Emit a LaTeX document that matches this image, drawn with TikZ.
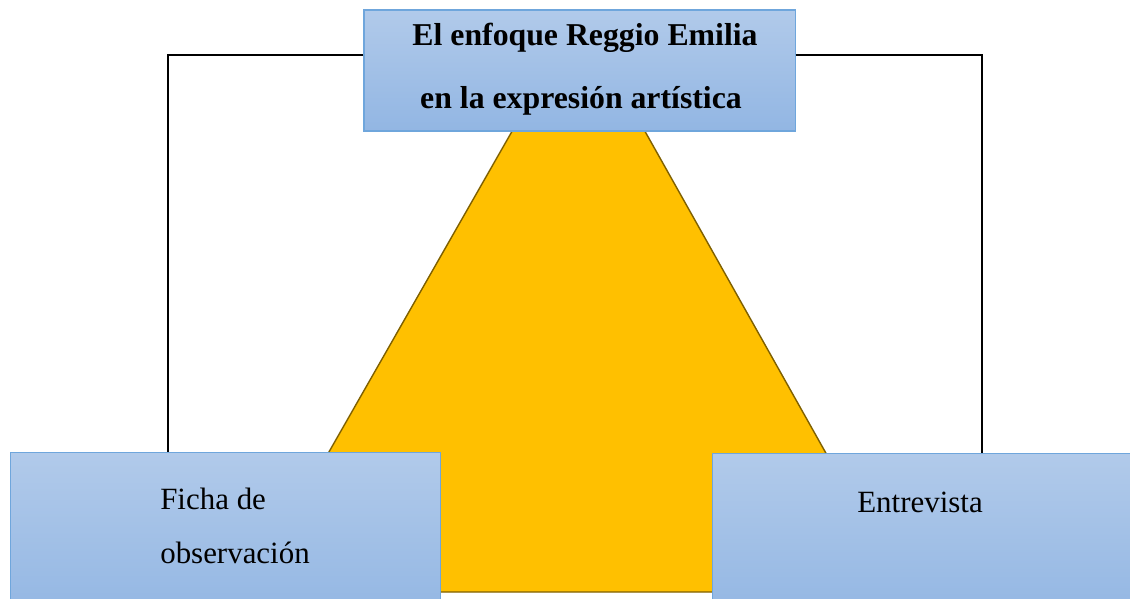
\documentclass[tikz,border=0pt]{standalone}
\usepackage{fontspec}
\setmainfont{Liberation Serif}
\definecolor{boxline}{HTML}{6FA6DC}
\definecolor{boxtop}{HTML}{B1CAEA}
\definecolor{boxbottom}{HTML}{92B6E3}
\definecolor{pyramid}{HTML}{FFC000}
\definecolor{pyramidline}{HTML}{7F6000}
\begin{document}
\begin{tikzpicture}[x=0.025cm, y=-0.025cm,
		box/.style={draw=boxline, line width=0.8pt, top color=boxtop, bottom color=boxbottom, inner sep=0pt},
		txt/.style={inner sep=0pt, font=\fontsize{22}{26}\selectfont}]
	\useasboundingbox (0,0) rectangle (1130,598);
	\clip (0,0) rectangle (1130,598);

	% pyramid behind the boxes
	\draw [pyramidline, fill=pyramid, line width=1pt] (579,14) -- (904,592) -- (249,592) -- cycle;

	\node (Topic) [box, minimum width=10.775cm, minimum height=3.025cm] at (579.5,70.5) {};
	\node (TopicA) [txt, anchor=base, font=\fontsize{22.6}{26}\selectfont] at (585,45) {\textbf{El enfoque Reggio Emilia}};
	\node (TopicB) [txt, anchor=base, font=\fontsize{22.6}{26}\selectfont] at (581,108) {\textbf{en la expresión artística}};

	\node (Ficha) [box, anchor=north west, minimum width=10.75cm, minimum height=4.25cm] at (10,452) {};
	\node (FichaA) [txt, anchor=base west] at (160,509) {Ficha de};
	\node (FichaB) [txt, anchor=base west] at (160,563) {observación};

	\node (Entre) [box, anchor=north west, minimum width=11cm, minimum height=4.25cm] at (712,453) {};
	\node (EntreA) [txt, anchor=base] at (920,512) {Entrevista};

	\coordinate (TL) at (168,55);
	\coordinate (TR) at (982,55);
	\draw [line width=1.3pt] (Topic.west |- TL) -- (TL) -- (TL |- Ficha.north);
	\draw [line width=1.3pt] (Topic.east |- TR) -- (TR) -- (TR |- Entre.north);
\end{tikzpicture}
\end{document}
